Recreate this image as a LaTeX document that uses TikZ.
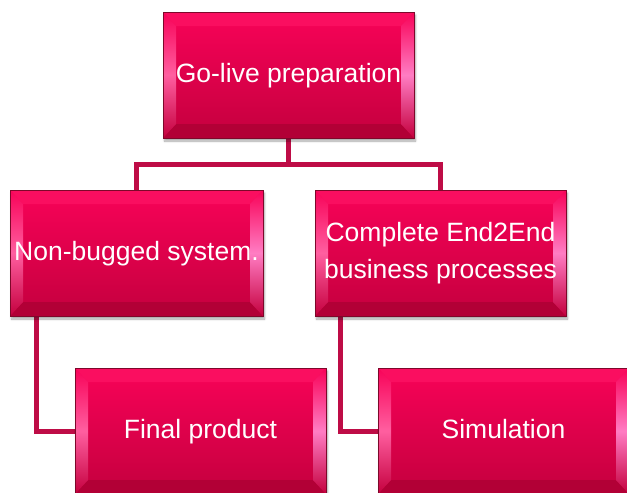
\documentclass[tikz,border=0pt]{standalone}
\usepackage{fontspec}
\setmainfont{Liberation Sans}
\usetikzlibrary{shadows.blur,calc}
\definecolor{facetop}{RGB}{248,2,88}
\definecolor{facebot}{RGB}{196,0,62}
\definecolor{boxedge}{RGB}{125,8,42}
\definecolor{bevleft}{RGB}{255,95,160}
\definecolor{bevright}{RGB}{255,125,195}
\definecolor{bevtop}{RGB}{250,14,96}
\definecolor{bevbot}{RGB}{178,0,54}
\definecolor{linkcol}{RGB}{190,12,70}
\pgfdeclarelayer{background}
\pgfsetlayers{background,main}
\tikzset{
  x=1pt,y=1pt,
  bbox/.style={draw=boxedge, line width=0.8pt, minimum width=251pt, minimum height=126pt,
    inner sep=0pt, top color=facetop, bottom color=facebot, text=white, align=center,
    font=\fontsize{26.5}{37.5}\selectfont,
    blur shadow={shadow xshift=1.5pt, shadow yshift=-3pt, shadow blur steps=6, shadow opacity=35},
    path picture={
      \coordinate (NW) at (path picture bounding box.north west);
      \coordinate (NE) at (path picture bounding box.north east);
      \coordinate (SW) at (path picture bounding box.south west);
      \coordinate (SE) at (path picture bounding box.south east);
      \coordinate (iNW) at ($(NW)+(13,-14)$);
      \coordinate (iNE) at ($(NE)+(-13,-14)$);
      \coordinate (iSW) at ($(SW)+(13,14)$);
      \coordinate (iSE) at ($(SE)+(-13,14)$);
      \fill[bevtop] (NW) -- (NE) -- (iNE) -- (iNW) -- cycle;
      \fill[bevbot] (SW) -- (SE) -- (iSE) -- (iSW) -- cycle;
      \shade[top color=facetop, bottom color=facebot, middle color=bevleft] (NW) -- (iNW) -- (iSW) -- (SW) -- cycle;
      \shade[top color=facetop, bottom color=facebot, middle color=bevright] (NE) -- (iNE) -- (iSE) -- (SE) -- cycle;
    }},
  oneline/.style={text height=21pt, text depth=5.5pt},
  link/.style={draw=linkcol, line width=5pt}
}
\begin{document}
\begin{tikzpicture}
\useasboundingbox (0,0) rectangle (627,-493);
\node[bbox, oneline] (top) at (288.5,-75) {Go-live preparation};
\node[bbox, oneline, minimum width=253pt] (nb) at (136.5,-253) {Non-bugged system.};
\node[bbox] (ce) at (440.5,-253) {Complete End2End\\business processes};
\node[bbox, oneline] (fp) at (200.5,-431) {Final product};
\node[bbox, oneline] (sim) at (503.5,-431) {Simulation};
\begin{pgfonlayer}{background}
\draw[link] (top.south) -- ++(0,-26) -| (nb.north);
\draw[link] (top.south) -- ++(0,-26) -| (ce.north);
\draw[link] ([xshift=27pt]nb.south west) |- (fp.west);
\draw[link] ([xshift=26pt]ce.south west) |- (sim.west);
\end{pgfonlayer}
\end{tikzpicture}
\end{document}
